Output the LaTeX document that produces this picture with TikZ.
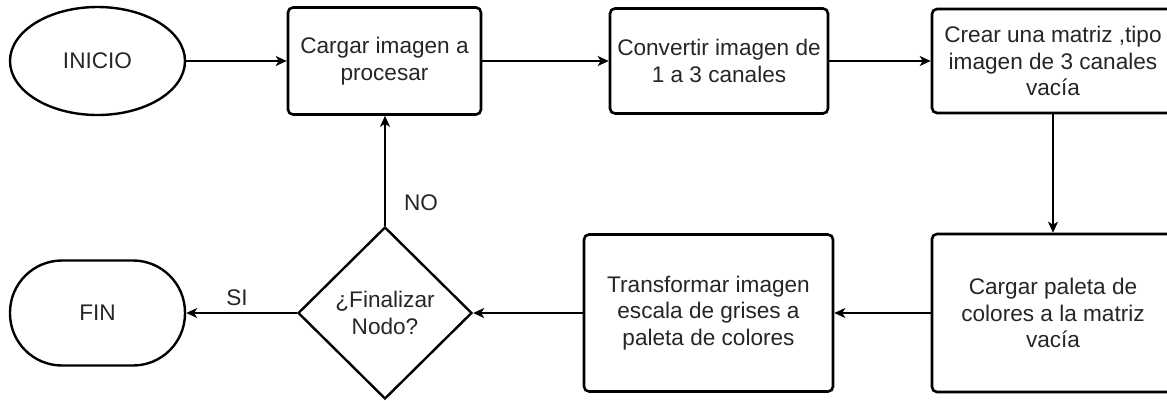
\documentclass[tikz,border=0pt]{standalone}
\usepackage{fontspec}
\setmainfont{Liberation Sans}
\usetikzlibrary{shapes.geometric,arrows.meta}
\begin{document}
\begin{tikzpicture}[x=1pt,y=-1pt,
  every node/.style={font=\fontsize{22.6}{26.5}\selectfont, text=black!85},
  procbox/.style={draw=black, line width=2.6pt, rounded corners=5pt, align=center, inner sep=0pt, fill=white},
  termnode/.style={draw=black, line width=2.4pt, align=center, inner sep=0pt},
  conn/.style={draw=black, line width=1.6pt, -{Stealth[length=11pt,width=10pt,inset=3pt]}},
  lbl/.style={inner sep=0pt}
]
\useasboundingbox (0,0) rectangle (1167,400);
\clip (0,0) rectangle (1167,400);
% nodes
\node[termnode, ellipse, minimum width=175pt, minimum height=108pt] (ini) at (97.5,61) {INICIO};
\node[procbox, minimum width=193pt, minimum height=107pt] (b1) at (384.5,61) {Cargar imagen a\\procesar};
\node[procbox, minimum width=218pt, minimum height=105pt] (b2) at (719,61) {Convertir imagen de\\1 a 3 canales};
\node[procbox, minimum width=242pt, minimum height=104pt] (b3) at (1053,61) {Crear una matriz ,tipo\\imagen de 3 canales\\vacía};
\node[procbox, minimum width=242pt, minimum height=158pt] (b4) at (1053,313) {Cargar paleta de\\colores a la matriz\\vacía};
\node[procbox, minimum width=249pt, minimum height=157pt] (b5) at (708.5,313) {Transformar imagen\\escala de grises a\\paleta de colores};
\node[termnode, diamond, minimum width=174pt, minimum height=172pt] (dec) at (385,313) {¿Finalizar\\Nodo?};
\node[termnode, rounded corners=52pt, minimum width=175pt, minimum height=105pt] (fin) at (97.5,313) {FIN};
% connectors
\draw[conn] (ini) -- (b1);
\draw[conn] (b1) -- (b2);
\draw[conn] (b2) -- (b3);
\draw[conn] (b3) -- (b4);
\draw[conn] (b4) -- (b5);
\draw[conn] (b5) -- (dec);
\draw[conn] (dec.north) -- (b1.south -| dec.north);
\draw[conn] (dec) -- (fin);
% labels
\node[lbl] (nolbl) at (421,203) {NO};
\node[lbl] (silbl) at (237,298) {SI};
\end{tikzpicture}
\end{document}
